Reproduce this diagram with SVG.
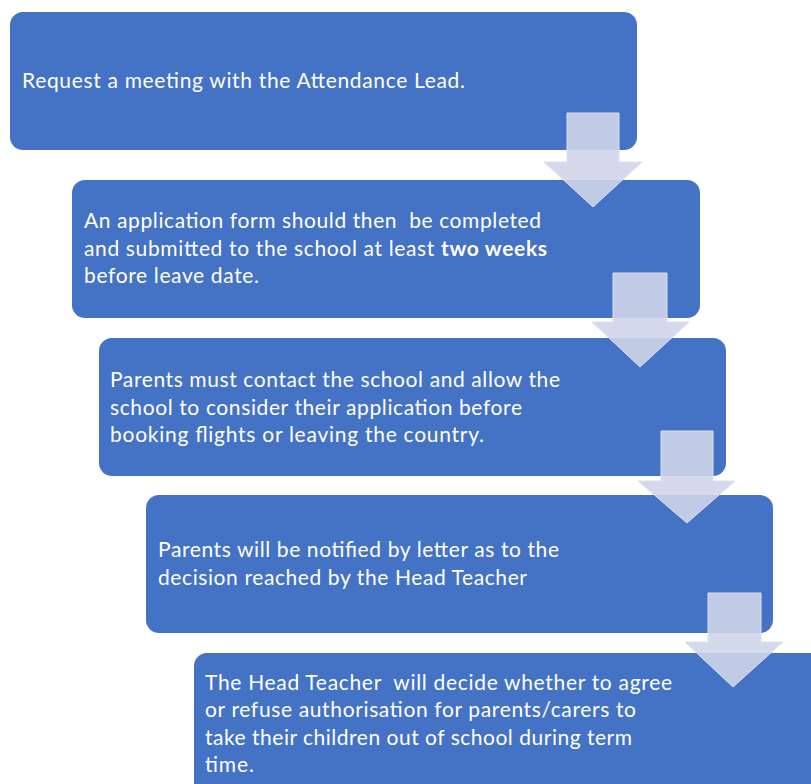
<svg xmlns="http://www.w3.org/2000/svg" width="811" height="784" viewBox="0 0 811 784">
<style>
.box{fill:#4472C4}
.arr{fill:#CFD5EA;fill-opacity:0.9;stroke:#DCE1F0;stroke-width:1}
.t{fill:#FFFFFF;font-family:Lato,"Open Sans","Liberation Sans",sans-serif;font-size:21px}
.b{font-weight:bold}
</style>
<rect width="811" height="784" fill="#FFFFFF"/>
<g id="node1">
<rect class="box" x="10" y="12" width="627" height="138" rx="13"/>
<text class="t" x="22" y="88" textLength="443">Request a meeting with the Attendance Lead.</text>
</g>
<g id="node2">
<rect class="box" x="72" y="180" width="628" height="138" rx="13"/>
<text class="t" x="84" y="228" textLength="457" xml:space="preserve">An application form should then  be completed</text>
<text class="t" x="84" y="256" textLength="463">and submitted to the school at least <tspan class="b">two weeks</tspan></text>
<text class="t" x="84" y="283" textLength="175">before leave date.</text>
</g>
<g id="node3">
<rect class="box" x="99" y="338" width="627" height="138" rx="13"/>
<text class="t" x="110" y="387" textLength="450">Parents must contact the school and allow the</text>
<text class="t" x="110" y="415" textLength="412">school to consider their application before</text>
<text class="t" x="110" y="442" textLength="374">booking flights or leaving the country.</text>
</g>
<g id="node4">
<rect class="box" x="146" y="495" width="627" height="138" rx="13"/>
<text class="t" x="158" y="557" textLength="401">Parents will be notified by letter as to the</text>
<text class="t" x="158" y="585" textLength="369">decision reached by the Head Teacher</text>
</g>
<g id="node5">
<rect class="box" x="194" y="653" width="640" height="150" rx="13"/>
<text class="t" x="205" y="690" textLength="467" xml:space="preserve">The Head Teacher  will decide whether to agree</text>
<text class="t" x="205" y="717" textLength="431">or refuse authorisation for parents/carers to</text>
<text class="t" x="205" y="745" textLength="427">take their children out of school during term</text>
<text class="t" x="205" y="772" textLength="49">time.</text>
</g>
<g id="connectors">
<path class="arr" d="M567,113 H619 V162 H642 L593,207 L544,162 H567 Z"/>
<path class="arr" d="M613,273 H667 V322 H689 L640,367 L592,322 H613 Z"/>
<path class="arr" d="M661,431 H713 V481 H735 L687,523 L638,481 H661 Z"/>
<path class="arr" d="M708,593 H761 V642 H783 L733,687 L685,642 H708 Z"/>
</g>
</svg>
